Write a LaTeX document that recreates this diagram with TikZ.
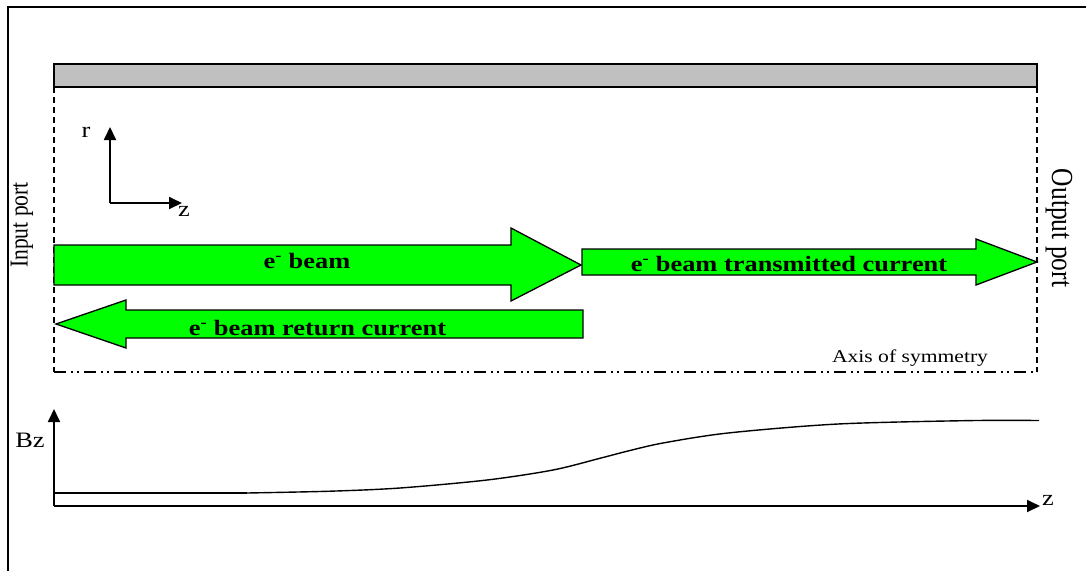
\documentclass[tikz,border=0pt]{standalone}
\usepackage{fontspec}
\setmainfont{Liberation Serif}
\usepackage{graphicx}
\usetikzlibrary{arrows.meta}
\definecolor{beamgreen}{RGB}{0,255,0}
\definecolor{wallgray}{RGB}{192,192,192}
\newcommand{\hstretch}[1]{\scalebox{1.2}[1]{#1}}
\begin{document}
\begin{tikzpicture}[x=1pt,y=-1pt,
  lbl/.style={inner sep=0pt, font=\fontsize{22}{26}\selectfont\bfseries},
  txt/.style={inner sep=0pt, font=\fontsize{22}{26}\selectfont},
  bigarrow/.style={draw=black, line width=1.3pt, fill=beamgreen, line join=miter},
  axisline/.style={line width=1.8pt, -{Triangle[length=13pt,width=12pt]}},
  port/.style={dash pattern=on 6pt off 4pt, line width=1.2pt},
  symaxis/.style={line width=1.2pt, dash pattern=on 12pt off 5pt on 2pt off 4pt on 2pt off 5pt},
]
\useasboundingbox (0,0) rectangle (1086,571);
% outer frame (top and left visible)
\draw[line width=1.5pt] (8,571) -- (8,7) -- (1086,7);
% conducting wall
\draw[fill=wallgray, line width=1.3pt] (54,64) rectangle (1037,87);
% ports and axis
\coordinate (inT) at (54,87);  \coordinate (inB) at (54,372);
\coordinate (outT) at (1037,87); \coordinate (outB) at (1037,372);
\draw[port] (inT) -- (inB);
\draw[port] (outT) -- (outB);
\draw[symaxis] (inB) -- (outB);
\node[txt, font=\fontsize{18}{22}\selectfont, anchor=base] (axlbl) at (910,362) {\hstretch{Axis of symmetry}};
% port labels
\node[txt, font=\fontsize{21.5}{26}\selectfont] (inport) at (22,225) {\hstretch{\rotatebox{90}{Input port}}};
\node[txt, font=\fontsize{25.5}{30}\selectfont] (outport) at (1059,228) {\hstretch{\rotatebox{-90}{Output port}}};
% r-z axes
\coordinate (o) at (110,203);
\coordinate (rt) at (110,127);
\coordinate (zt) at (182,203);
\draw[axisline] (o) -- (rt);
\draw[axisline] (o) -- (zt);
\node[txt] (rl) at (86,132) {\hstretch{r}};
\node[txt] (zl) at (184,211) {\hstretch{z}};
% beam arrows
\draw[bigarrow] (54,245) -- (511,245) -- (511,228) -- (581,265) -- (511,301) -- (511,285) -- (54,285) -- cycle;
\draw[bigarrow] (582,249) -- (976,249) -- (976,239) -- (1037,262) -- (976,285) -- (976,275) -- (582,275) -- cycle;
\draw[bigarrow] (56,324) -- (126,300) -- (126,310) -- (583,310) -- (583,338) -- (126,338) -- (126,348) -- cycle;
\node[lbl, anchor=base] (beam) at (307,268) {\hstretch{e\textsuperscript{-} beam}};
\node[lbl, anchor=base] (trans) at (789,271.5) {\hstretch{e\textsuperscript{-} beam transmitted current}};
\node[lbl, anchor=base] (ret) at (317.5,335) {\hstretch{e\textsuperscript{-} beam return current}};
% Bz plot
\coordinate (bo) at (54,506);
\coordinate (bt) at (54,409);
\coordinate (bzt) at (1040,506);
\draw[axisline] (bo) -- (bt);
\draw[axisline] (bo) -- (bzt);
\node[txt] (bzl) at (30,440) {\hstretch{Bz}};
\node[txt, anchor=west] (zl2) at (1042,500) {\hstretch{z}};
\draw[line width=1.4pt] (54,493) -- (247,493);
\draw[line width=1.4pt] plot[smooth, tension=0.5] coordinates {(247,493) (330,491.2) (400,488) (487,480) (553,470) (601,458) (628,451) (663,443) (728,433) (838,424) (969,420.6) (1039,420.5)};
\end{tikzpicture}
\end{document}
